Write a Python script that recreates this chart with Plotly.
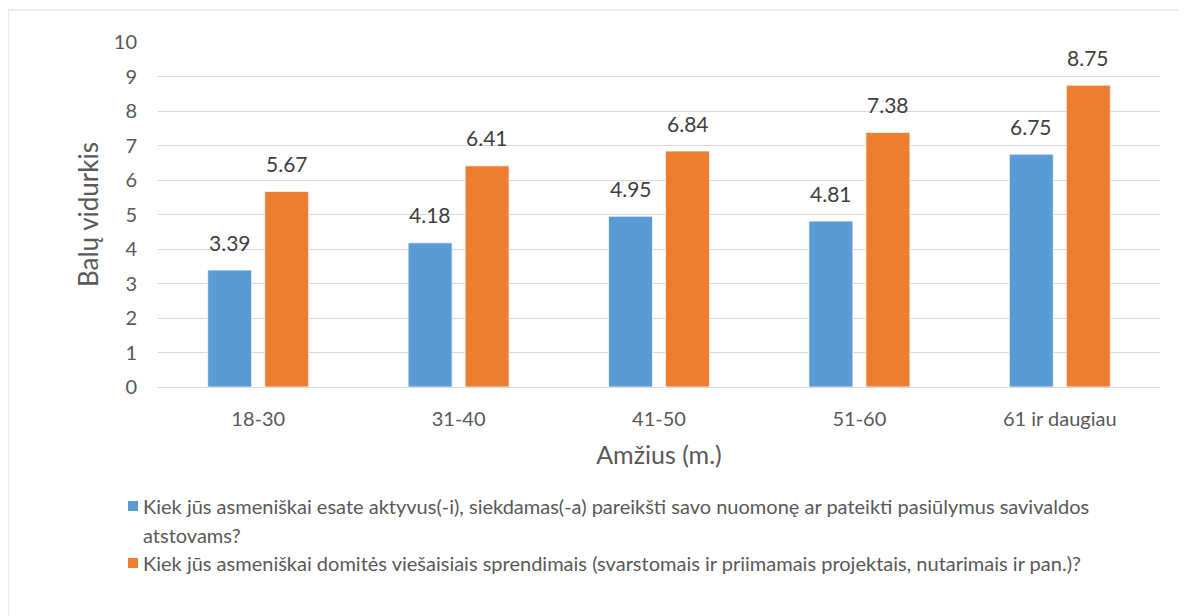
import plotly.graph_objects as go

categories = ["18-30", "31-40", "41-50", "51-60", "61 ir daugiau"]
series_active = [3.39, 4.18, 4.95, 4.81, 6.75]
series_interest = [5.67, 6.41, 6.84, 7.38, 8.75]
name_active = "Kiek jūs asmeniškai esate aktyvus(-i), siekdamas(-a) pareikšti savo nuomonę ar pateikti pasiūlymus savivaldos atstovams?"
name_interest = "Kiek jūs asmeniškai domitės viešaisiais sprendimais (svarstomais ir priimamais projektais, nutarimais ir pan.)?"
legend_lines_active = ["Kiek jūs asmeniškai esate aktyvus(-i), siekdamas(-a) pareikšti savo nuomonę ar pateikti pasiūlymus savivaldos", "atstovams?"]
legend_lines_interest = [name_interest]
y_ticks = list(range(0, 11))

BLUE = "#5B9BD5"
ORANGE = "#ED7D31"
FONT = "Lato"

OFF = 8  # page body margin
W, H = 1186 - OFF, 616 - OFF
L, T = 158 - OFF, 42 - OFF
R = W - (1160 - OFF)
B = H - (387 - OFF)
PW, PH = W - L - R, H - T - B

def px_x(p):  # p in screenshot coordinates
    return (p - OFF - L) / PW

def px_y(p):
    return (H - B - (p - OFF)) / PH

fig = go.Figure()
fig.add_trace(go.Bar(x=categories, y=series_active, name=name_active,
                     marker=dict(color=BLUE, line=dict(color="white", width=0.75))))
fig.add_trace(go.Bar(x=categories, y=series_interest, name=name_interest,
                     marker=dict(color=ORANGE, line=dict(color="white", width=0.75))))

lab_font = dict(family=FONT, size=21, color="#404040")
annotations = []
for c, v in zip(categories, series_active):
    annotations.append(dict(x=c, y=v, text=f"{v:.2f}", showarrow=False, xshift=-28.5, yshift=28,
                            font=lab_font))
for c, v in zip(categories, series_interest):
    annotations.append(dict(x=c, y=v, text=f"{v:.2f}", showarrow=False, xshift=28.5, yshift=28,
                            font=lab_font))

# legend (manual, to match wrapped layout)
legend_font = dict(family=FONT, size=20, color="#595959")
line_y = [506, 535]
for i, txt in enumerate(legend_lines_active):
    annotations.append(dict(xref="paper", yref="paper", x=px_x(141), y=px_y(line_y[i]), text=txt,
                            showarrow=False, xanchor="left", yanchor="middle", font=legend_font))
annotations.append(dict(xref="paper", yref="paper", x=px_x(141), y=px_y(563), text=legend_lines_interest[0],
                        showarrow=False, xanchor="left", yanchor="middle", font=legend_font))

shapes = [
    dict(type="rect", xref="paper", yref="paper", x0=px_x(8), x1=px_x(1210), y0=px_y(700), y1=px_y(10),
         line=dict(color="#D9D9D9", width=1), fillcolor="rgba(0,0,0,0)", layer="below"),
    dict(type="rect", xref="paper", yref="paper", x0=px_x(128), x1=px_x(138), y0=px_y(511), y1=px_y(501),
         line=dict(width=0), fillcolor=BLUE),
    dict(type="rect", xref="paper", yref="paper", x0=px_x(128), x1=px_x(138), y0=px_y(568), y1=px_y(558),
         line=dict(width=0), fillcolor=ORANGE),
]

fig.update_layout(
    width=W, height=H,
    margin=dict(l=L, r=R, t=T, b=B, autoexpand=False),
    paper_bgcolor="white", plot_bgcolor="white",
    barmode="group", bargap=0.431, bargroupgap=0.228,
    showlegend=False,
    font=dict(family=FONT, color="#595959"),
    annotations=annotations, shapes=shapes,
    xaxis=dict(
        type="category", showgrid=False, showline=False, zeroline=False,
        ticks="", ticklabelstandoff=18,
        tickfont=dict(family=FONT, size=20, color="#595959"),
        title=dict(text="Amžius (m.)", font=dict(family=FONT, size=25, color="#595959"), standoff=17),
        automargin=False,
    ),
    yaxis=dict(
        range=[0, 10], tickvals=y_ticks, showgrid=True, gridcolor="#D9D9D9", gridwidth=1.3,
        zeroline=True, zerolinecolor="#D9D9D9", zerolinewidth=1.3, showline=False,
        ticks="", ticklabelstandoff=20,
        tickfont=dict(family=FONT, size=20, color="#595959"),
        title=dict(text="Balų vidurkis", font=dict(family=FONT, size=26, color="#595959"), standoff=7),
        automargin=False,
    ),
)

fig.write_html("out.html")
